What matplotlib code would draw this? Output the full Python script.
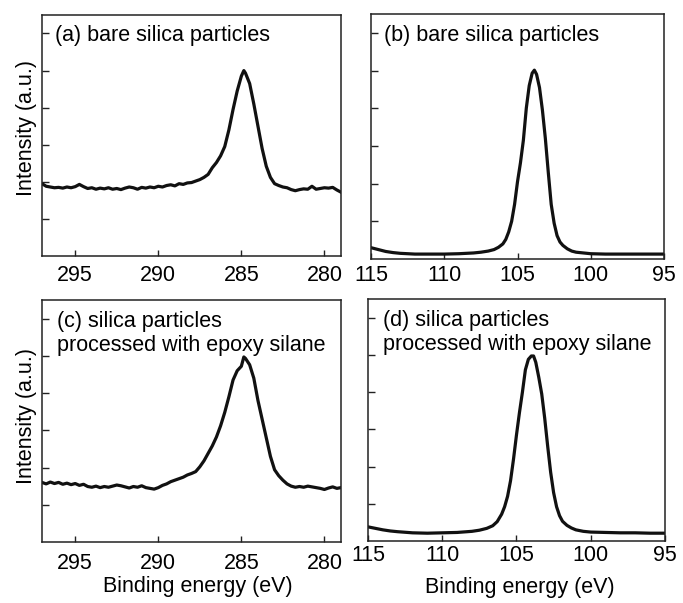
import matplotlib.pyplot as plt

plt.rcParams['font.family'] = ['Liberation Sans', 'DejaVu Sans']

# C 1s region, bare silica (a)
c1s_bare_e = [297.0, 296.75, 296.5, 296.25, 296.0, 295.75, 295.5, 295.25, 295.0, 294.75,
              294.5, 294.25, 294.0, 293.75, 293.5, 293.25, 293.0, 292.75, 292.5, 292.25,
              292.0, 291.75, 291.5, 291.25, 291.0, 290.75, 290.5, 290.25, 290.0, 289.75,
              289.5, 289.25, 289.0, 288.75, 288.5, 288.25, 288.0, 287.75, 287.5, 287.25,
              287.0, 286.75, 286.5, 286.25, 286.0, 285.75, 285.5, 285.25, 285.0, 284.85,
              284.75, 284.5, 284.25, 284.0, 283.75, 283.5, 283.25, 283.0, 282.75, 282.5,
              282.25, 282.0, 281.75, 281.5, 281.25, 281.0, 280.75, 280.5, 280.25, 280.0,
              279.75, 279.5, 279.25, 279.0]
c1s_bare_i = [1.95, 1.88, 1.86, 1.84, 1.85, 1.83, 1.86, 1.84, 1.87, 1.93,
              1.87, 1.82, 1.84, 1.80, 1.83, 1.81, 1.84, 1.80, 1.82, 1.79,
              1.83, 1.86, 1.84, 1.80, 1.85, 1.83, 1.86, 1.84, 1.88, 1.86,
              1.90, 1.92, 1.89, 1.95, 1.93, 1.97, 1.98, 2.02, 2.06, 2.12,
              2.20, 2.38, 2.52, 2.70, 2.95, 3.40, 3.95, 4.45, 4.85, 5.00,
              4.93, 4.65, 4.10, 3.50, 2.90, 2.42, 2.12, 1.95, 1.90, 1.86,
              1.84, 1.79, 1.76, 1.79, 1.81, 1.80, 1.88, 1.80, 1.82, 1.84,
              1.83, 1.85, 1.78, 1.72]

# C 1s region, epoxy silane treated (c)
c1s_epoxy_e = c1s_bare_e
c1s_epoxy_i = [1.60, 1.56, 1.61, 1.57, 1.60, 1.55, 1.58, 1.54, 1.57, 1.52,
               1.55, 1.49, 1.47, 1.50, 1.46, 1.49, 1.47, 1.50, 1.53, 1.51,
               1.48, 1.45, 1.49, 1.47, 1.51, 1.46, 1.44, 1.42, 1.46, 1.52,
               1.56, 1.62, 1.66, 1.70, 1.74, 1.80, 1.84, 1.89, 2.02, 2.18,
               2.38, 2.58, 2.82, 3.12, 3.48, 3.90, 4.35, 4.60, 4.72, 4.97,
               4.93, 4.76, 4.40, 3.80, 3.30, 2.80, 2.30, 1.94, 1.78, 1.66,
               1.56, 1.50, 1.47, 1.49, 1.47, 1.50, 1.48, 1.46, 1.44, 1.41,
               1.45, 1.48, 1.44, 1.46]

# Si 2p region (b) and (d)
si2p_e = [115.0, 114.5, 114.0, 113.5, 113.0, 112.0, 111.0, 110.0, 109.0, 108.0,
          107.5, 107.0, 106.6, 106.3, 106.0, 105.8, 105.6, 105.4, 105.2, 105.0,
          104.8, 104.6, 104.4, 104.2, 104.0, 103.85, 103.7, 103.5, 103.3, 103.1,
          102.9, 102.7, 102.5, 102.3, 102.1, 101.9, 101.6, 101.3, 101.0, 100.5,
          100.0, 99.0, 98.0, 97.0, 96.0, 95.0]
si2p_bare_i = [0.30, 0.25, 0.20, 0.17, 0.15, 0.13, 0.13, 0.13, 0.14, 0.16,
               0.18, 0.21, 0.25, 0.31, 0.40, 0.52, 0.72, 1.00, 1.45, 2.05,
               2.55, 3.15, 4.00, 4.60, 4.93, 5.01, 4.90, 4.55, 3.95, 3.20,
               2.30, 1.45, 0.95, 0.62, 0.45, 0.36, 0.27, 0.21, 0.18, 0.16,
               0.14, 0.13, 0.13, 0.13, 0.13, 0.13]
si2p_epoxy_i = [0.38, 0.34, 0.30, 0.27, 0.25, 0.22, 0.21, 0.22, 0.23, 0.26,
                0.29, 0.34, 0.41, 0.52, 0.72, 0.92, 1.20, 1.62, 2.20, 2.85,
                3.45, 4.00, 4.60, 4.88, 4.97, 4.97, 4.80, 4.40, 3.95, 3.30,
                2.55, 1.85, 1.30, 0.92, 0.68, 0.53, 0.42, 0.35, 0.30, 0.26,
                0.24, 0.23, 0.22, 0.22, 0.21, 0.21]

c1s_ticks = [295, 290, 285, 280]
si2p_ticks = [115, 110, 105, 100, 95]
labels = [['(a) bare silica particles'],
          ['(b) bare silica particles'],
          ['(c) silica particles', 'processed with epoxy silane'],
          ['(d) silica particles', 'processed with epoxy silane']]

fs = 15.5
fig = plt.figure(figsize=(6.83, 6.03), dpi=100)

axa = fig.add_axes([0.0615, 0.5755, 0.4378, 0.3997])
axb = fig.add_axes([0.5432, 0.5705, 0.4290, 0.4063])
axc = fig.add_axes([0.0615, 0.1012, 0.4378, 0.4013])
axd = fig.add_axes([0.5388, 0.1028, 0.4348, 0.4013])

panels = [(axa, c1s_bare_e, c1s_bare_i, (297, 279), c1s_ticks, 6.5, 0.043),
          (axb, si2p_e, si2p_bare_i, (115, 95), si2p_ticks, 4, 0.044),
          (axc, c1s_epoxy_e, c1s_epoxy_i, (297, 279), c1s_ticks, 8, 0.05),
          (axd, si2p_e, si2p_epoxy_i, (115, 95), si2p_ticks, 3, 0.05)]

for (ax, e, inten, xl, xt, pad, tx), lab in zip(panels, labels):
    ax.plot(e, inten, color='#111111', lw=2.3, solid_joinstyle='round')
    ax.set_xlim(*xl)
    ax.set_ylim(0, 6.5)
    ax.set_xticks(xt)
    ax.set_yticks([1, 2, 3, 4, 5, 6])
    ax.set_yticklabels([])
    ax.tick_params(direction='in', length=4, width=1, colors='#222222',
                   labelsize=fs, labelcolor='black', pad=pad)
    ax.tick_params(axis='y', length=5)
    for s in ax.spines.values():
        s.set_linewidth(1.1)
        s.set_color('#222222')
    # one text per line, baselines ~0.1 axes apart
    for k, line in enumerate(lab):
        ax.text(tx, 0.89 - 0.1 * k, line, transform=ax.transAxes, fontsize=fs,
                va='baseline', ha='left')

axa.set_ylabel('Intensity (a.u.)', fontsize=fs)
axa.yaxis.set_label_coords(-0.017, 0.53)
axc.set_ylabel('Intensity (a.u.)', fontsize=fs)
axc.yaxis.set_label_coords(-0.017, 0.52)

axc.set_xlabel('Binding energy (eV)', fontsize=fs)
axc.xaxis.set_label_coords(0.52, -0.142)
axd.set_xlabel('Binding energy (eV)', fontsize=fs)
axd.xaxis.set_label_coords(0.512, -0.147)

fig.savefig('out.png', dpi=100)
